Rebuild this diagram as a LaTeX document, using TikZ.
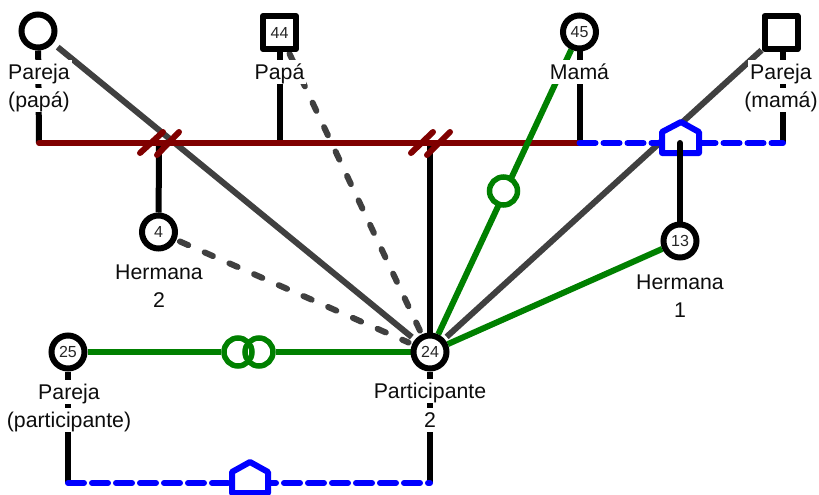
\documentclass[tikz,border=0pt]{standalone}
\usepackage{fontspec}
\setmainfont{Liberation Sans}
\pgfdeclarelayer{back}
\pgfsetlayers{back,main}
\definecolor{grisrel}{HTML}{404040}
\definecolor{rojorel}{HTML}{800000}
\definecolor{verderel}{HTML}{008000}
\tikzset{
  mujer/.style={circle,draw=black,fill=white,line width=6pt,minimum size=33pt,inner sep=0pt,font=\fontsize{16}{16}\selectfont,text=black!85},
  hombre/.style={rectangle,draw=black,fill=white,line width=6pt,minimum size=33pt,inner sep=0pt,line join=round,font=\fontsize{16}{16}\selectfont,text=black!85},
  etiqueta/.style={fill=white,inner xsep=2pt,inner ysep=2pt,text height=17pt,text depth=3pt,font=\fontsize{21.3}{21.3}\selectfont,text=black!95},
  lazo/.style={circle,draw=verderel,line width=5.5pt,minimum size=28pt,inner sep=0pt},
  linea/.style={line width=6pt,draw=black},
  gris/.style={line width=6pt,draw=grisrel},
  grisp/.style={line width=6pt,draw=grisrel,line cap=round,dash pattern=on 9pt off 18pt},
  verde/.style={line width=6pt,draw=verderel},
  rojo/.style={line width=6pt,draw=rojorel,line cap=round},
  azul/.style={line width=6pt,draw=blue,line cap=round,dash pattern=on 16pt off 8pt},
  casa/.style={line width=6pt,draw=blue,fill=white,line join=round},
}
\begin{document}
\begin{tikzpicture}[x=1pt,y=-1pt]
\useasboundingbox (0,0) rectangle (819,495);
% junctions
\coordinate (j1) at (39,143);
\coordinate (j2) at (279.5,143);
\coordinate (j3) at (579.5,143);
\coordinate (j4) at (783,143);
\coordinate (j5) at (159,143);
\coordinate (j6) at (430,143);
\coordinate (j7) at (680,143);
\coordinate (j8) at (68,483);
\coordinate (j9) at (430,483);
% people
\node[mujer] (pp) at (38,31) {};
\node[hombre] (pa) at (279.5,32.5) {44};
\node[mujer] (ma) at (579.5,32) {45};
\node[hombre] (pm) at (781,32.5) {};
\node[mujer] (h2) at (158.5,232) {4};
\node[mujer] (h1) at (680,241) {13};
\node[mujer] (pc) at (68,352) {25};
\node[mujer] (yo) at (430,352) {24};
% labels
\node[etiqueta] (l1a) at (39,72) {Pareja};
\node[etiqueta] (l1b) at (39,100) {(papá)};
\node[etiqueta] (l2) at (279.5,72) {Papá};
\node[etiqueta] (l3) at (579.5,72) {Mamá};
\node[etiqueta] (l4a) at (781,72) {Pareja};
\node[etiqueta] (l4b) at (781,100) {(mamá)};
\node[etiqueta] (l5a) at (159,272) {Hermana};
\node[etiqueta] (l5b) at (159,300) {2};
\node[etiqueta] (l6a) at (680,282) {Hermana};
\node[etiqueta] (l6b) at (680,310) {1};
\node[etiqueta] (l7a) at (69,392) {Pareja};
\node[etiqueta] (l7b) at (69,420) {(participante)};
\node[etiqueta] (l8a) at (430,391) {Participante};
\node[etiqueta] (l8b) at (430,420) {2};
% relationship circles
\node[lazo,fill=white] (v3) at (503.5,191) {};
\node[lazo] (v1) at (238,352) {};
\node[lazo] (v2) at (259,352) {};
% lines below everything
\begin{pgfonlayer}{back}
  \draw[linea] (pp) -- (j1);
  \draw[linea] (pa) -- (j2);
  \draw[linea] (ma) -- (j3);
  \draw[linea] (pm.south -| j4) -- (j4);
  \draw[linea] (h2) -- (j5);
  \draw[linea] (yo) -- (j6);
  \draw[linea] (pc) -- (j8);
  \draw[linea] (yo) -- (j9);
  \draw[gris,shorten <=6pt,shorten >=4pt] (pp) -- (yo);
  \draw[gris,shorten >=3pt] (pm) -- (yo);
  \draw[grisp,shorten <=2pt,shorten >=4pt] (pa) -- (yo);
  \draw[grisp,shorten <=4pt,shorten >=4pt] (h2) -- (yo);
  \draw[rojo] (j1) -- (j3);
  \draw[azul] (j3) -- (j4);
  \draw[azul] (j8) -- (j9);
  \draw[verde] (ma) -- (yo);
  \draw[verde] (h1) -- (yo);
  \draw[verde] (pc) -- (v1);
  \draw[verde] (v2) -- (yo);
  \draw[rojo] (140,153) -- (163,132);
  \draw[rojo] (157,155) -- (179,132);
  \draw[rojo] (411,153) -- (433,132);
  \draw[rojo] (427,155) -- (450,132);
\end{pgfonlayer}
% houses
\draw[casa] (662,153) -- (662,132) -- (681,122) -- (699,132) -- (699,153) -- cycle;
\draw[casa] (232,493) -- (232,472) -- (250,462) -- (268,472) -- (268,493) -- cycle;
\draw[linea,line cap=round] (h1) -- (j7);
\end{tikzpicture}
\end{document}
